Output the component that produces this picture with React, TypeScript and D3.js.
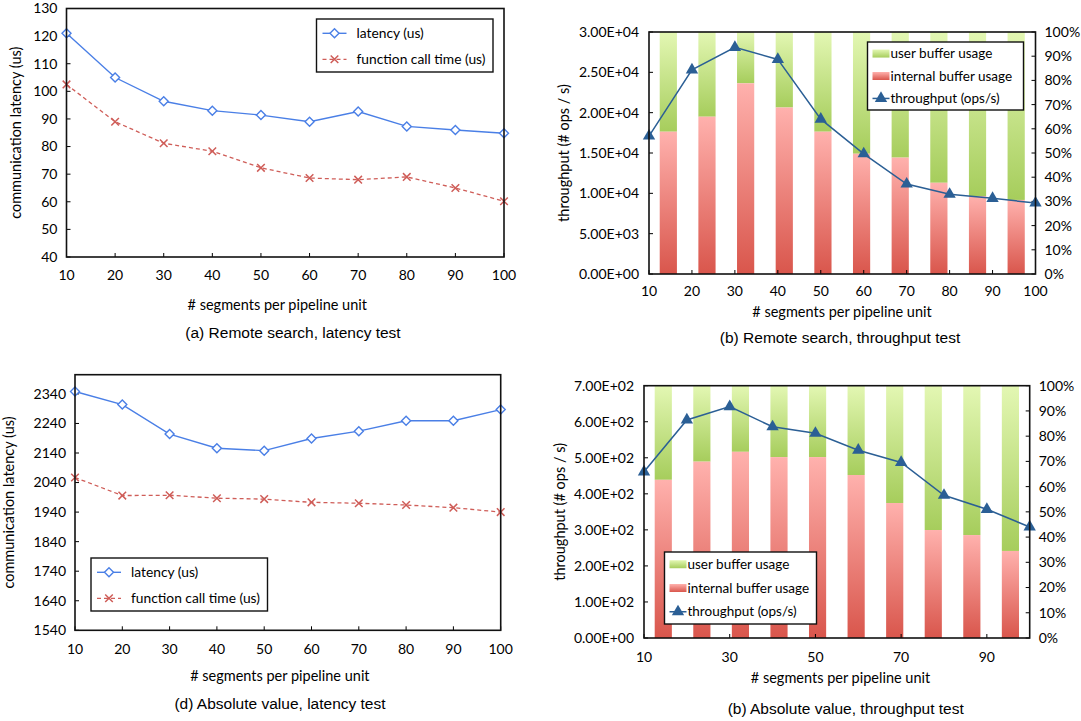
import * as d3 from 'd3';

// x categories shared by all four panels
const segments = [10, 20, 30, 40, 50, 60, 70, 80, 90, 100];

// (a) remote search, latency test
const remoteLatency = [121, 105, 96.4, 93, 91.4, 89, 92.7, 87.3, 86, 84.8];
const remoteCallTime = [102.5, 89, 81.2, 78.3, 72.3, 68.6, 68, 69, 65, 60.2];
const remoteLatencyTicks = [40, 50, 60, 70, 80, 90, 100, 110, 120, 130];

// (b) remote search, throughput test
const remoteThroughput = [17100, 25300, 28100, 26600, 19200, 14900, 11150, 9880, 9380, 8800];
const remoteInternalPct = [58.8, 65, 78.8, 68.8, 58.8, 49.7, 48.1, 37.7, 32.2, 30.6];
const remoteThroughputTicks = [0, 5000, 10000, 15000, 20000, 25000, 30000];

// (d) absolute value, latency test
const absLatency = [2348, 2304, 2204, 2156, 2148, 2189, 2214, 2249, 2249, 2287];
const absCallTime = [2057, 1996, 1997, 1987, 1984, 1973, 1970, 1964, 1955, 1940];
const absLatencyTicks = [1540, 1640, 1740, 1840, 1940, 2040, 2140, 2240, 2340];

// (b) absolute value, throughput test
const absThroughput = [461, 605, 642, 586, 568, 521, 487, 396, 357, 308];
const absInternalPct = [62.7, 69.9, 73.8, 71.7, 71.7, 64.6, 53.5, 42.8, 40.8, 34.5];
const absThroughputTicks = [0, 100, 200, 300, 400, 500, 600, 700];

const pctTicks = [0, 10, 20, 30, 40, 50, 60, 70, 80, 90, 100];

const FONT = 'Lato, "Open Sans", sans-serif';
const CAP_FONT = '"Liberation Sans", Arial, sans-serif';
const BLUE = '#4a7fe6';
const RED = '#cf5d58';
const DARK = '#2b5f95';
const TICK = 14;

const fmtE = (v: number) => {
  const [m, e] = v.toExponential(2).split('e');
  const n = Math.abs(+e);
  return `${m}E${+e < 0 ? '-' : '+'}${n < 10 ? '0' + n : n}`;
};

const diamond = 'M0,-4.5L4.5,0L0,4.5L-4.5,0Z';
const cross = 'M-3.8,-3.8L3.8,3.8M-3.8,3.8L3.8,-3.8';
const triangle = d3.symbol(d3.symbolTriangle, 66)()!;

function LatencyPanel(p: any) {
  const { L, R, T, B } = p;
  const x = d3.scaleLinear().domain([10, 100]).range([L, R]);
  const y = d3.scaleLinear().domain(p.yDomain).range([B, T]);
  const line = d3.line<number>().x((_, i) => x(segments[i])).y(d => y(d));
  const lg = p.legend;
  return (
    <g>
      {p.yTicks.map((t: number) => (
        <g key={t}>
          <line x1={L} x2={L + 4} y1={y(t)} y2={y(t)} stroke="#000" />
          <text x={L - 9} y={y(t)} dy="0.35em" textAnchor="end" fontSize={TICK} fontFamily={FONT}>{t}</text>
        </g>
      ))}
      {segments.map(s => (
        <g key={s}>
          <line x1={x(s)} x2={x(s)} y1={B} y2={B - 4} stroke="#000" />
          <text x={x(s)} y={p.tickY} dy="0.35em" textAnchor="middle" fontSize={TICK} fontFamily={FONT}>{s}</text>
        </g>
      ))}
      <path d={line(p.call)!} fill="none" stroke={RED} strokeWidth={1.3} strokeDasharray="4,3" />
      <path d={line(p.lat)!} fill="none" stroke={BLUE} strokeWidth={1.4} />
      {p.lat.map((v: number, i: number) => (
        <path key={'d' + i} d={diamond} transform={`translate(${x(segments[i])},${y(v)})`} fill="#fff" stroke={BLUE} strokeWidth={1.4} />
      ))}
      {p.call.map((v: number, i: number) => (
        <path key={'c' + i} d={cross} transform={`translate(${x(segments[i])},${y(v)})`} fill="none" stroke={RED} strokeWidth={1.5} />
      ))}
      <rect x={L} y={T} width={R - L} height={B - T} fill="none" stroke="#111" strokeWidth={1.6} />
      <text transform={`translate(${p.yTitleX},${(T + B) / 2}) rotate(-90)`} textAnchor="middle" dy="0.35em" fontSize={14.5} fontFamily={FONT}>communication latency (us)</text>
      <text x={(L + R) / 2 - 8} y={p.titleY} dy="0.35em" textAnchor="middle" fontSize={14.5} fontFamily={FONT}># segments per pipeline unit</text>
      <text x={p.capX} y={p.capY} dy="0.35em" textAnchor="middle" fontSize={15.5} fontFamily={CAP_FONT}>{p.caption}</text>
      <g>
        <rect x={lg.x} y={lg.y} width={lg.w} height={lg.h} fill="#fff" stroke="#111" strokeWidth={1.4} />
        <line x1={lg.x + 6} x2={lg.x + 30} y1={lg.y + lg.h * 0.27} y2={lg.y + lg.h * 0.27} stroke={BLUE} strokeWidth={1.4} />
        <path d={diamond} transform={`translate(${lg.x + 18},${lg.y + lg.h * 0.27})`} fill="#fff" stroke={BLUE} strokeWidth={1.4} />
        <text x={lg.x + 40} y={lg.y + lg.h * 0.27} dy="0.35em" fontSize={13.8} fontFamily={FONT}>latency (us)</text>
        <line x1={lg.x + 6} x2={lg.x + 30} y1={lg.y + lg.h * 0.76} y2={lg.y + lg.h * 0.76} stroke={RED} strokeWidth={1.3} strokeDasharray="4,3" />
        <path d={cross} transform={`translate(${lg.x + 18},${lg.y + lg.h * 0.76})`} fill="none" stroke={RED} strokeWidth={1.5} />
        <text x={lg.x + 40} y={lg.y + lg.h * 0.76} dy="0.35em" fontSize={13.8} fontFamily={FONT}>function call time (us)</text>
      </g>
    </g>
  );
}

function ThroughputPanel(p: any) {
  const { L, R, T, B } = p;
  const x = d3.scaleLinear().domain([10, 100]).range([L, R]);
  const band = d3.scaleBand<number>().domain(segments).range([L, R]).paddingInner(0.555).paddingOuter(0.2775);
  const y = d3.scaleLinear().domain([0, p.yMax]).range([B, T]);
  const yp = d3.scaleLinear().domain([0, 100]).range([B, T]);
  const line = d3.line<number>().x((_, i) => x(segments[i])).y(d => y(d));
  const lg = p.legend;
  const rows = [0.17, 0.5, 0.83].map(f => lg.y + lg.h * f);
  return (
    <g>
      {segments.map((s, i) => (
        <g key={'b' + s}>
          <rect x={band(s)} width={band.bandwidth()} y={yp(100)} height={yp(p.internal[i]) - yp(100)} fill="url(#gGreen)" />
          <rect x={band(s)} width={band.bandwidth()} y={yp(p.internal[i])} height={B - yp(p.internal[i])} fill="url(#gRed)" />
        </g>
      ))}
      {p.yTicks.map((t: number) => (
        <g key={t}>
          <line x1={L} x2={L + 4} y1={y(t)} y2={y(t)} stroke="#000" />
          <text x={L - 10} y={y(t)} dy="0.35em" textAnchor="end" fontSize={TICK} fontFamily={FONT}>{fmtE(t)}</text>
        </g>
      ))}
      {pctTicks.map(t => (
        <g key={'p' + t}>
          <line x1={R} x2={R - 4} y1={yp(t)} y2={yp(t)} stroke="#000" />
          <text x={R + 9} y={yp(t)} dy="0.35em" fontSize={TICK} fontFamily={FONT}>{t}%</text>
        </g>
      ))}
      {p.xLabels.map((s: number) => (
        <g key={'x' + s}>
          <line x1={x(s)} x2={x(s)} y1={B} y2={B - 4} stroke="#000" />
          <text x={x(s)} y={p.tickY} dy="0.35em" textAnchor="middle" fontSize={TICK} fontFamily={FONT}>{s}</text>
        </g>
      ))}
      <path d={line(p.thr)!} fill="none" stroke={DARK} strokeWidth={1.5} />
      {p.thr.map((v: number, i: number) => (
        <path key={'t' + i} d={triangle} transform={`translate(${x(segments[i])},${y(v)})`} fill={DARK} />
      ))}
      <rect x={L} y={T} width={R - L} height={B - T} fill="none" stroke="#111" strokeWidth={1.6} />
      <text transform={`translate(${p.yTitleX},${(T + B) / 2}) rotate(-90)`} textAnchor="middle" dy="0.35em" fontSize={14.5} fontFamily={FONT}>throughput (# ops / s)</text>
      <text x={p.titleX} y={p.titleY} dy="0.35em" textAnchor="middle" fontSize={14.5} fontFamily={FONT}># segments per pipeline unit</text>
      <text x={p.capX} y={p.capY} dy="0.35em" textAnchor="middle" fontSize={15.5} fontFamily={CAP_FONT}>{p.caption}</text>
      <g>
        <rect x={lg.x} y={lg.y} width={lg.w} height={lg.h} fill="#fff" stroke="#111" strokeWidth={1.4} />
        <rect x={lg.x + 5} y={rows[0] - 4} width={17} height={8} fill="url(#gGreen)" />
        <text x={lg.x + 23} y={rows[0]} dy="0.35em" fontSize={13.5} fontFamily={FONT}>user buffer usage</text>
        <rect x={lg.x + 5} y={rows[1] - 4} width={17} height={8} fill="url(#gRed)" />
        <text x={lg.x + 23} y={rows[1]} dy="0.35em" fontSize={13.5} fontFamily={FONT}>internal buffer usage</text>
        <line x1={lg.x + 5} x2={lg.x + 22} y1={rows[2]} y2={rows[2]} stroke={DARK} strokeWidth={1.5} />
        <path d={triangle} transform={`translate(${lg.x + 13.5},${rows[2]})`} fill={DARK} />
        <text x={lg.x + 23} y={rows[2]} dy="0.35em" fontSize={13.5} fontFamily={FONT}>throughput (ops/s)</text>
      </g>
    </g>
  );
}

export default function App() {
  return (
    <svg width={1081} height={721} style={{ position: 'absolute', left: 0, top: 0, background: '#fff' }}>
      <defs>
        <linearGradient id="gGreen" x1="0" y1="0" x2="0" y2="1">
          <stop offset="0" stopColor="#e3f7b3" />
          <stop offset="1" stopColor="#a6cd5c" />
        </linearGradient>
        <linearGradient id="gRed" x1="0" y1="0" x2="0" y2="1">
          <stop offset="0" stopColor="#ffb1ad" />
          <stop offset="1" stopColor="#d9564c" />
        </linearGradient>
      </defs>
      <rect width={1081} height={721} fill="#fff" />
      <LatencyPanel L={66.5} R={504} T={8.5} B={257} yDomain={[40, 130]} yTicks={remoteLatencyTicks}
        lat={remoteLatency} call={remoteCallTime} tickY={275} titleY={305} yTitleX={16}
        capX={293} capY={333} caption="(a) Remote search, latency test"
        legend={{ x: 316.5, y: 19, w: 176.5, h: 53 }} />
      <ThroughputPanel L={649} R={1035.5} T={32} B={274} yMax={30000} yTicks={remoteThroughputTicks}
        thr={remoteThroughput} internal={remoteInternalPct} xLabels={segments}
        tickY={291} titleX={842} titleY={312} yTitleX={564} capX={840} capY={338}
        caption="(b) Remote search, throughput test"
        legend={{ x: 867.5, y: 42, w: 156, h: 68 }} />
      <LatencyPanel L={75} R={500.7} T={374.7} B={630.3} yDomain={[1540, 2405]} yTicks={absLatencyTicks}
        lat={absLatency} call={absCallTime} tickY={649} titleY={676} yTitleX={9}
        capX={280} capY={704} caption="(d) Absolute value, latency test"
        legend={{ x: 91, y: 558, w: 176.5, h: 53 }} />
      <ThroughputPanel L={644} R={1029.7} T={385.7} B={638} yMax={700} yTicks={absThroughputTicks}
        thr={absThroughput} internal={absInternalPct} xLabels={[10, 30, 50, 70, 90]}
        tickY={657} titleX={840.5} titleY={678} yTitleX={560} capX={845.7} capY={709}
        caption="(b) Absolute value, throughput test"
        legend={{ x: 664.5, y: 552, w: 152, h: 72 }} />
    </svg>
  );
}
